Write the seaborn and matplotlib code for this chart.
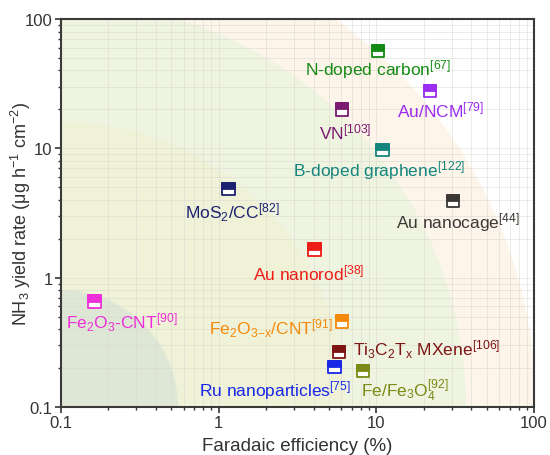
import numpy as np
import pandas as pd
import matplotlib
matplotlib.use("Agg")
import matplotlib.pyplot as plt
import seaborn as sns
from matplotlib.path import Path
from matplotlib.patches import Ellipse
from matplotlib.ticker import FixedLocator, FixedFormatter, LogLocator, NullFormatter

# ---------------- data ----------------
labels = ["N-doped carbon", "Au/NCM", "VN", "B-doped graphene", "Au nanocage",
          "MoS2/CC", "Au nanorod", "Fe2O3-CNT", "Fe2O3-x/CNT", "Ti3C2Tx MXene",
          "Ru nanoparticles", "Fe/Fe3O4"]
texts = ["N-doped carbon$^{[67]}$", "Au/NCM$^{[79]}$", "VN$^{[103]}$",
         "B-doped graphene$^{[122]}$", "Au nanocage$^{[44]}$",
         "MoS$_2$/CC$^{[82]}$", "Au nanorod$^{[38]}$", "Fe$_2$O$_3$-CNT$^{[90]}$",
         "Fe$_2$O$_{3\\mathrm{-x}}$/CNT$^{[91]}$",
         "Ti$_3$C$_2$T$_\\mathrm{x}$ MXene$^{[106]}$",
         "Ru nanoparticles$^{[75]}$", "Fe/Fe$_3$O$_4^{[92]}$"]
faradaic_eff = [10.25, 21.9, 6.06, 10.9, 30.6, 1.16, 4.03, 0.164, 6.06, 5.80, 5.40, 8.23]
yield_rate = [56.6, 27.8, 20.1, 9.7, 3.92, 4.85, 1.64, 0.65, 0.46, 0.266, 0.204, 0.190]
colors = ["#138a13", "#9b2cf0", "#7a1a70", "#14857c", "#3b3835", "#1c2170",
          "#ec1c16", "#ee2ed8", "#f58a0a", "#7e1414", "#1826e6", "#7a8a14"]
tick_vals = [0.1, 1, 10, 100]
tick_labels = ["0.1", "1", "10", "100"]

# label offsets in pixels (text centre relative to marker)
offsets = [(0, -18), (11, -19), (3, -22), (-3, -20), (5, -21), (3, -23),
           (-5, -23), (27, -20), (-71, -6), (88, 3), (-59, -23), (42, -19)]

df = pd.DataFrame({"label": labels, "fe": faradaic_eff, "y": yield_rate})
palette = dict(zip(labels, colors))

# ---------------- style ----------------
sns.set_theme(style="white")
plt.rcParams["font.family"] = ["Liberation Sans", "DejaVu Sans"]
plt.rcParams["mathtext.fontset"] = "custom"
plt.rcParams["mathtext.rm"] = "Liberation Sans"
plt.rcParams["mathtext.it"] = "Liberation Sans:italic"
plt.rcParams["mathtext.bf"] = "Liberation Sans:bold"
plt.rcParams["mathtext.sf"] = "Liberation Sans"

fig = plt.figure(figsize=(5.5, 4.56), dpi=100)
ax = fig.add_axes([61 / 550, 48 / 456, 473 / 550, 388 / 456])
ax.set_xscale("log")
ax.set_yscale("log")
ax.set_xlim(0.1, 100)
ax.set_ylim(0.1, 100)

# background quarter circles (in pixel space around bottom-left corner)
W, H = 473.0, 388.0
bands = [(475, "#fdf4ea"), (405, "#eef4e0"), (285, "#f0f2d8"), (117, "#dee7d5")]
for r, c in bands:
    ax.add_patch(Ellipse((0, 0), 2 * r / W, 2 * r / H, transform=ax.transAxes,
                         facecolor=c, edgecolor="none", zorder=0.5))

# grid
ax.xaxis.set_minor_locator(LogLocator(base=10, subs=np.arange(2, 10)))
ax.yaxis.set_minor_locator(LogLocator(base=10, subs=np.arange(2, 10)))
ax.xaxis.set_minor_formatter(NullFormatter())
ax.yaxis.set_minor_formatter(NullFormatter())
ax.grid(True, which="both", color="#d8d8d0", lw=0.6, alpha=0.6, zorder=0.8)
ax.set_axisbelow(True)

# markers: open square with coloured edge, then filled top half
sns.scatterplot(data=df, x="fe", y="y", hue="label", palette=palette, marker="s",
                s=85, linewidth=1.3, legend=False, ax=ax, zorder=3)
coll = ax.collections[-1]
fc = coll.get_facecolors()
coll.set_edgecolors(fc)
coll.set_facecolors("white")

top_half = Path([(-1, 0), (1, 0), (1, 1), (-1, 1), (-1, 0)],
                [Path.MOVETO, Path.LINETO, Path.LINETO, Path.LINETO, Path.CLOSEPOLY])
sns.scatterplot(data=df, x="fe", y="y", hue="label", palette=palette, marker=top_half,
                s=85, linewidth=1.3, legend=False, ax=ax, zorder=4)
coll2 = ax.collections[-1]
coll2.set_edgecolors(coll2.get_facecolors())

for i in range(len(labels)):
    ax.annotate(texts[i], (faradaic_eff[i], yield_rate[i]), xytext=offsets[i],
                textcoords="offset pixels", ha="center", va="center",
                color=colors[i], fontsize=12.5, zorder=5)

# axes cosmetics
ax.xaxis.set_major_locator(FixedLocator(tick_vals))
ax.xaxis.set_major_formatter(FixedFormatter(tick_labels))
ax.yaxis.set_major_locator(FixedLocator(tick_vals))
ax.yaxis.set_major_formatter(FixedFormatter(tick_labels))
ax.tick_params(which="major", direction="out", length=4, width=1.2, colors="#333333",
               labelsize=12, bottom=True, left=True, pad=2)
ax.tick_params(which="minor", direction="out", length=2.5, width=1.0, colors="#333333",
               bottom=True, left=True)
for sp in ax.spines.values():
    sp.set_color("#3a3a3a")
    sp.set_linewidth(1.5)

ax.set_xlabel("Faradaic efficiency (%)", fontsize=13.5, color="#333333")
ax.set_ylabel("NH$_3$ yield rate (μg h$^{-1}$ cm$^{-2}$)", fontsize=13,
              color="#333333")
ax.xaxis.set_label_coords(0.5, -30 / 388)
ax.yaxis.set_label_coords(-28 / 473, 0.5)

fig.savefig("out.png", dpi=100)
